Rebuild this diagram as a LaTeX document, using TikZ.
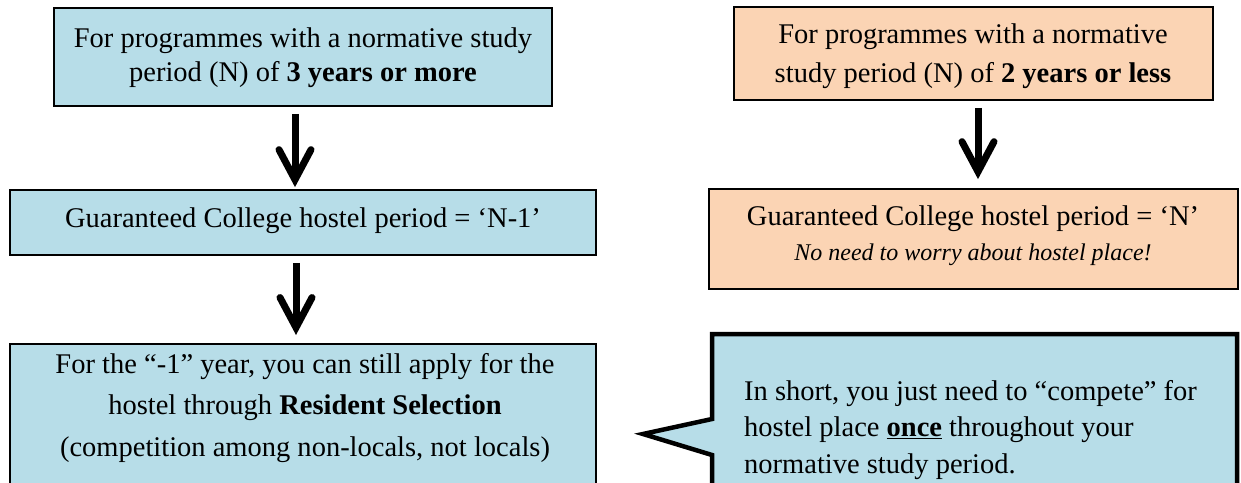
\documentclass[tikz,border=0pt]{standalone}
\usepackage{fontspec}
\setmainfont{Liberation Serif}
\usetikzlibrary{arrows.meta}
\definecolor{boxblue}{RGB}{183,221,232}
\definecolor{boxorange}{RGB}{251,212,180}
\begin{document}
\begin{tikzpicture}[x=1pt,y=-1pt,
  box/.style={draw=black, line width=1.8pt, rectangle, inner sep=0pt},
  bluebox/.style={box, fill=boxblue},
  orangebox/.style={box, fill=boxorange},
  txt/.style={inner sep=0pt, anchor=base},
  bigarrow/.style={line width=7pt, -{Straight Barb[length=30pt, width=32pt, line cap=round, line join=miter]}},
  callout/.style={draw=black, fill=boxblue, line width=4.5pt, line join=miter}]
\useasboundingbox (0,0) rectangle (1241,482);
\begin{scope}
\clip (0,0) rectangle (1241,482);
% left column
\node[bluebox, minimum width=498pt, minimum height=98pt] (b1) at (303,57) {};
\node[bluebox, minimum width=586pt, minimum height=65pt] (b2) at (303,222.5) {};
\node[bluebox, minimum width=586pt, minimum height=170pt, anchor=north] (b3) at (303,343) {};
% right column
\node[orangebox, minimum width=479pt, minimum height=93pt] (r1) at (973.5,53.5) {};
\node[orangebox, minimum width=529pt, minimum height=100pt] (r2) at (973.5,239) {};
% callout
\coordinate (ctip) at (643,434);
\draw[callout] (712,334) -- (1237,334) -- (1237,500) -- (712,500) -- (712,455) -- (ctip) -- (712,419) -- cycle;

% texts
\node[txt, font=\fontsize{28.5}{34}\selectfont] (t1) at (303,47.5)
  {\begin{tabular}[t]{@{}c@{}}For programmes with a normative study\\ period (N) of \textbf{3 years or more}\end{tabular}};
\node[txt, font=\fontsize{28.5}{35}\selectfont] (t2) at (303,227)
  {Guaranteed College hostel period = ‘N-1’};
\node[txt, font=\fontsize{28.5}{41.5}\selectfont] (t3) at (305,373)
  {\begin{tabular}[t]{@{}c@{}}For the “-1” year, you can still apply for the\\ hostel through \textbf{Resident Selection}\\ (competition among non-locals, not locals)\end{tabular}};
\node[txt, font=\fontsize{28.5}{39}\selectfont] (tr1) at (973,43)
  {\begin{tabular}[t]{@{}c@{}}For programmes with a normative\\ study period (N) of \textbf{2 years or less}\end{tabular}};
\node[txt, font=\fontsize{28.5}{35}\selectfont] (tr2) at (973,225)
  {\begin{tabular}[t]{@{}c@{}}Guaranteed College hostel period = ‘N’\\ {\fontsize{24}{28}\selectfont\itshape No need to worry about hostel place!}\end{tabular}};
\node[txt, anchor=base west, font=\fontsize{28.5}{36.5}\selectfont] (tc) at (744,400)
  {\begin{tabular}[t]{@{}l@{}}In short, you just need to “compete” for\\ hostel place \underline{\textbf{once}} throughout your\\ normative study period.\end{tabular}};

% arrows
\draw[bigarrow, shorten <=7pt, shorten >=2pt] ([xshift=-8pt]b1.south) -- ([xshift=-8pt]b2.north);
\draw[bigarrow, shorten <=7pt, shorten >=8pt] ([xshift=-7pt]b2.south) -- ([xshift=-7pt]b3.north);
\draw[bigarrow, shorten <=7pt, shorten >=9pt] ([xshift=4.5pt]r1.south) -- ([xshift=4.5pt]r2.north);
\end{scope}
\end{tikzpicture}
\end{document}
